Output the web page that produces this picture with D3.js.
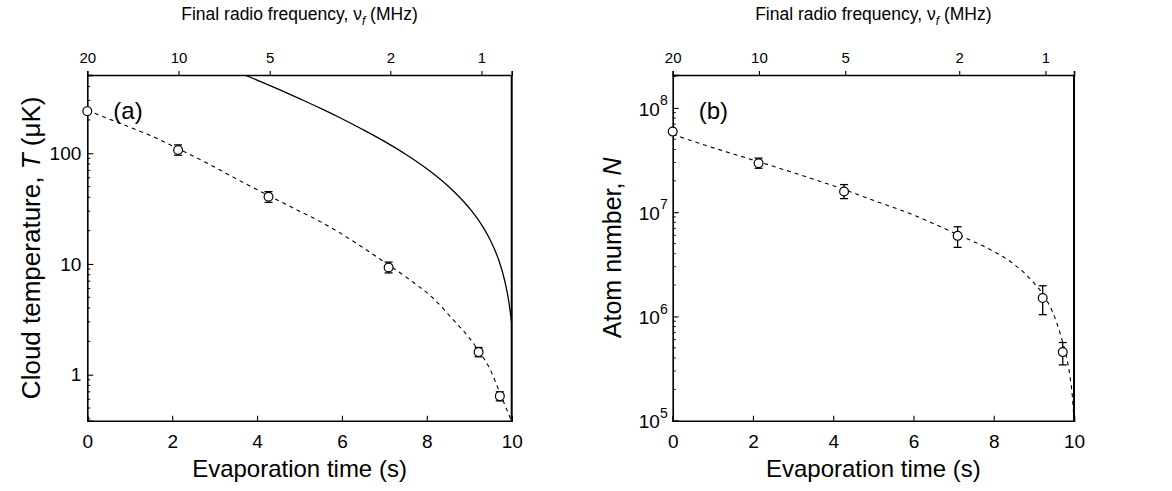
<!DOCTYPE html>
<html>
<head>
<meta charset="utf-8">
<script src="https://cdn.jsdelivr.net/npm/d3@7"></script>
<style>
  body { margin: 0; background: #fff; }
  svg { display: block; }
  text { font-family: "Liberation Sans", Arial, Helvetica, sans-serif; fill: #000; }
</style>
</head>
<body>
<svg id="chart" width="1172" height="491"></svg>
<script>
// ---- measured points (evaporation time in s) ----
const evapTimes    = [0, 2.14, 4.27, 7.1, 9.22, 9.72];

// (a) cloud temperature, µK
const tempValues   = [240, 107, 40.5, 9.3, 1.6, 0.64];
const tempErrLow   = [232, 96, 36, 8.3, 1.45, 0.58];
const tempErrHigh  = [248, 119, 45, 10.4, 1.76, 0.70];

// (b) atom number
const atomValues   = [5.93e7, 2.95e7, 1.58e7, 5.93e6, 1.5e6, 4.55e5];
const atomErrLow   = [5.75e7, 2.64e7, 1.35e7, 4.6e6, 1.04e6, 3.43e5];
const atomErrHigh  = [6.1e7, 3.3e7, 1.84e7, 7.25e6, 1.97e6, 5.62e5];

// dashed fit through the temperature data
const tempFitTimes  = [0, 0.5, 1, 1.5, 2.14, 3, 3.5, 4.27, 5, 5.5, 6, 6.5, 7.1, 7.6, 8.15, 8.6, 9, 9.22, 9.5, 9.7, 9.85, 10];
const tempFitValues = [245, 205, 172, 144, 110, 75, 59, 41.5, 30, 24, 18.6, 14, 9.8, 7.2, 4.9, 3.2, 2.15, 1.65, 1.1, 0.72, 0.52, 0.38];

// solid line: trap depth set by the rf knife
const depthTimes  = [3.72, 4, 4.5, 5, 5.5, 6, 6.5, 7, 7.5, 8, 8.5, 9, 9.25, 9.5, 9.7, 9.8, 9.9, 9.95, 10];
const depthValues = [508, 458, 379, 311, 254, 205, 163, 128, 98, 72.4, 50.6, 32, 23.9, 16.3, 10.7, 8.0, 5.4, 4.1, 2.9];

// dashed fit through the atom-number data
const atomFitTimes  = [0, 0.5, 1.18, 2.14, 3, 4.27, 5, 6, 7.1, 8, 8.49, 9, 9.22, 9.4, 9.57, 9.72, 9.82, 9.9, 9.96, 10];
const atomFitValues = [5.6e7, 4.8e7, 3.96e7, 3.05e7, 2.4e7, 1.65e7, 1.3e7, 9.4e6, 6.1e6, 4.2e6, 3.2e6, 2.1e6, 1.65e6, 1.25e6, 8.7e5, 5.6e5, 4.0e5, 2.66e5, 1.7e5, 1.0e5];

// ---- axis ticks and labels ----
const timeTicks = [0, 2, 4, 6, 8, 10];
const freqTicks = [20, 10, 5, 2, 1];
const tempTicks = [1, 10, 100];
const atomTicks = [1e5, 1e6, 1e7, 1e8];
const timeDomain = [0, 10];
const freqDomain = [20, 0.795];
const tempDomain = [0.384, 509];
const atomDomain = [1e5, 2.07e8];

const svg = d3.select("#chart");
const plotTop = 75, plotBottom = 420.7;

function minorTicks(domain) {
  const out = [];
  for (let e = Math.floor(Math.log10(domain[0])); e <= Math.ceil(Math.log10(domain[1])); e++) {
    for (let m = 2; m <= 9; m++) {
      const v = m * Math.pow(10, e);
      if (v > domain[0] && v < domain[1]) out.push(v);
    }
  }
  return out;
}

function drawPanel(cfg) {
  const g = svg.append("g");
  const x = d3.scaleLinear().domain(timeDomain).range([cfg.left, cfg.right]);
  const xf = d3.scaleLog().domain(freqDomain).range([cfg.left, cfg.right]);
  const y = d3.scaleLog().domain(cfg.yDomain).range([plotBottom, plotTop]);

  const clipId = "clip-" + cfg.id;
  svg.append("clipPath").attr("id", clipId)
    .append("rect").attr("x", cfg.left).attr("y", plotTop)
    .attr("width", cfg.right - cfg.left).attr("height", plotBottom - plotTop);

  // bottom axis, inward ticks
  const xAxis = g.append("g").attr("transform", `translate(0,${plotBottom})`)
    .call(d3.axisBottom(x).tickValues(timeTicks).tickSize(-5).tickPadding(14).tickFormat(d3.format("d")));
  xAxis.selectAll("text").attr("font-size", 19);

  // top axis: final radio frequency, outward ticks
  const tAxis = g.append("g").attr("transform", `translate(0,${plotTop})`)
    .call(d3.axisTop(xf).tickValues(freqTicks).tickSize(4).tickPadding(8).tickFormat(d3.format("d")));
  tAxis.selectAll("text").attr("font-size", 15);

  // left axis, inward ticks
  const yAxis = g.append("g").attr("transform", `translate(${cfg.left},0)`)
    .call(d3.axisLeft(y).tickValues(cfg.yTicks).tickSize(-6).tickPadding(6).tickFormat(cfg.format));
  yAxis.selectAll("text").attr("font-size", 19);
  if (cfg.powers) {
    yAxis.selectAll(".tick text").each(function (d) {
      const t = d3.select(this).text("").attr("dy", "0.38em").attr("x", -5);
      t.append("tspan").text("10");
      t.append("tspan").attr("font-size", 14).attr("dy", "-0.75em").text(Math.round(Math.log10(d)));
    });
  }

  // minor ticks on the log axis
  g.append("g").selectAll("line").data(minorTicks(cfg.yDomain)).join("line")
    .attr("x1", cfg.left).attr("x2", cfg.left + 3)
    .attr("y1", d => y(d)).attr("y2", d => y(d))
    .attr("stroke", "#000").attr("stroke-width", 1);

  g.selectAll(".domain").attr("stroke", "#000").attr("stroke-width", 1.6);
  g.selectAll(".tick line").attr("stroke", "#000").attr("stroke-width", 1.1);

  // right frame edge
  g.append("line").attr("x1", cfg.right).attr("x2", cfg.right)
    .attr("y1", plotTop).attr("y2", plotBottom).attr("stroke", "#000").attr("stroke-width", 2);

  const line = d3.line().x(d => x(d[0])).y(d => y(d[1])).curve(d3.curveMonotoneX);
  const plot = g.append("g").attr("clip-path", `url(#${clipId})`);

  if (cfg.solid) {
    plot.append("path").datum(d3.zip(cfg.solid[0], cfg.solid[1]))
      .attr("d", line).attr("fill", "none").attr("stroke", "#000").attr("stroke-width", 1.3);
  }
  plot.append("path").datum(d3.zip(cfg.fit[0], cfg.fit[1]))
    .attr("d", line).attr("fill", "none").attr("stroke", "#000")
    .attr("stroke-width", 1.1).attr("stroke-dasharray", "4,4");

  // error bars and markers
  const pts = evapTimes.map((t, i) => ({ t, v: cfg.values[i], lo: cfg.lo[i], hi: cfg.hi[i] }));
  const eb = g.append("g").attr("stroke", "#000").attr("stroke-width", 1.3);
  pts.forEach(p => {
    const cx = x(p.t);
    eb.append("line").attr("x1", cx).attr("x2", cx).attr("y1", y(p.lo)).attr("y2", y(p.hi));
    eb.append("line").attr("x1", cx - 4).attr("x2", cx + 4).attr("y1", y(p.lo)).attr("y2", y(p.lo));
    eb.append("line").attr("x1", cx - 4).attr("x2", cx + 4).attr("y1", y(p.hi)).attr("y2", y(p.hi));
  });
  g.append("g").selectAll("circle").data(pts).join("circle")
    .attr("cx", d => x(d.t)).attr("cy", d => y(d.v)).attr("r", 4.4)
    .attr("fill", "#fff").attr("stroke", "#000").attr("stroke-width", 1.2);

  // panel letter
  g.append("text").attr("x", cfg.left + 26).attr("y", 119).attr("font-size", 24).text(cfg.letter);

  // axis titles
  g.append("text").attr("x", (cfg.left + cfg.right) / 2).attr("y", 477)
    .attr("text-anchor", "middle").attr("font-size", 24).text("Evaporation time (s)");

  const tt = g.append("text").attr("x", (cfg.left + cfg.right) / 2).attr("y", 20)
    .attr("text-anchor", "middle").attr("font-size", 17.5).attr("fill", "#222");
  tt.append("tspan").text("Final radio frequency, \u03bd");
  tt.append("tspan").attr("font-style", "italic").attr("font-size", 12).attr("dy", 5).text("f");
  tt.append("tspan").attr("dy", -5).text(" (MHz)");

  const yt = g.append("text")
    .attr("transform", `translate(${cfg.yTitleX},${(plotTop + plotBottom) / 2}) rotate(-90)`)
    .attr("text-anchor", "middle").attr("font-size", cfg.yTitleSize);
  yt.append("tspan").text(cfg.yTitle[0]);
  yt.append("tspan").attr("font-style", "italic").text(cfg.yTitle[1]);
  if (cfg.yTitle[2]) yt.append("tspan").text(cfg.yTitle[2]);
}

drawPanel({
  id: "a", left: 87.3, right: 511.7, yDomain: tempDomain, yTicks: tempTicks,
  format: d3.format("d"), powers: false,
  values: tempValues, lo: tempErrLow, hi: tempErrHigh,
  fit: [tempFitTimes, tempFitValues], solid: [depthTimes, depthValues],
  letter: "(a)", yTitleX: 40, yTitleSize: 26, yTitle: ["Cloud temperature, ", "T", " (\u03bcK)"]
});

drawPanel({
  id: "b", left: 672.7, right: 1074, yDomain: atomDomain, yTicks: atomTicks,
  format: d3.format("d"), powers: true,
  values: atomValues, lo: atomErrLow, hi: atomErrHigh,
  fit: [atomFitTimes, atomFitValues], solid: null,
  letter: "(b)", yTitleX: 621, yTitleSize: 25, yTitle: ["Atom number, ", "N"]
});
</script>
</body>
</html>
